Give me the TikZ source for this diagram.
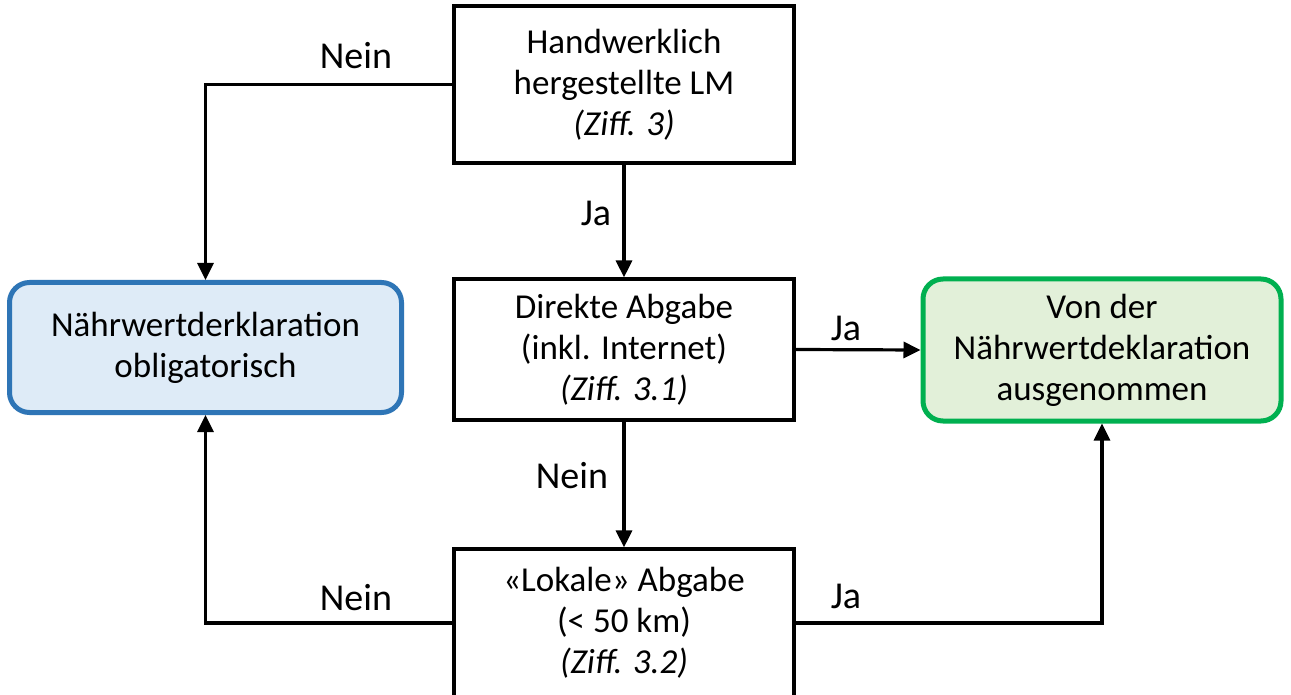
\documentclass[tikz,border=0pt]{standalone}
\usepackage{fontspec}
\setmainfont{Carlito}
\usetikzlibrary{arrows.meta}
\definecolor{bluebd}{HTML}{2E75B6}
\definecolor{bluefill}{HTML}{DEEBF7}
\definecolor{greenbd}{HTML}{00B050}
\definecolor{greenfill}{HTML}{E2F0D9}
\begin{document}
\begin{tikzpicture}[x=1pt,y=-1pt,
  every node/.style={font=\fontsize{35}{41}\selectfont, align=center, inner sep=0pt},
  stepbox/.style={draw=black, line width=3.2pt, fill=white, minimum width=340pt},
  bluebox/.style={draw=bluebd, fill=bluefill, line width=5pt, rounded corners=20pt, minimum width=392pt, minimum height=130pt},
  greenbox/.style={draw=greenbd, fill=greenfill, line width=5pt, rounded corners=20pt, minimum width=358pt, minimum height=142pt},
  conn/.style={draw=black, line width=3.2pt, -{Triangle[length=17pt,width=16pt]}},
  lbl/.style={font=\fontsize{38}{44}\selectfont}
]
\useasboundingbox (0,0) rectangle (1291,695);
\fill[white] (0,0) rectangle (1291,695);
\node[stepbox, minimum height=157pt] (top) at (624,84.5) {Handwerklich\\hergestellte LM\\\textit{(Ziff. 3)}};
\node[stepbox, minimum height=141pt] (mid) at (624,349.5) {Direkte Abgabe\\(inkl. Internet)\\\textit{(Ziff. 3.1)}};
\node[stepbox, minimum height=148pt] (bot) at (624,623) {«Lokale» Abgabe\\(< 50 km)\\\textit{(Ziff. 3.2)}};
\node[bluebox] (oblig) at (205.5,347.5) {Nährwertderklaration\\obligatorisch};
\node[greenbox] (ausg) at (1102,350) {Von der\\Nährwertdeklaration\\ausgenommen};
\draw[conn] (top.west) -| (oblig.north);
\draw[conn] (top.south) -- (mid.north);
\draw[conn] (mid.east) -- (ausg.west);
\draw[conn] (mid.south) -- (bot.north);
\draw[conn] (bot.west) -| (oblig.south);
\draw[conn] (bot.east) -| (ausg.south);
\node[lbl] (l1) at (356,56) {Nein};
\node[lbl] (l2) at (596,213) {Ja};
\node[lbl] (l3) at (846,328) {Ja};
\node[lbl] (l4) at (572,476) {Nein};
\node[lbl] (l5) at (356,598) {Nein};
\node[lbl] (l6) at (846,596) {Ja};
\end{tikzpicture}
\end{document}
